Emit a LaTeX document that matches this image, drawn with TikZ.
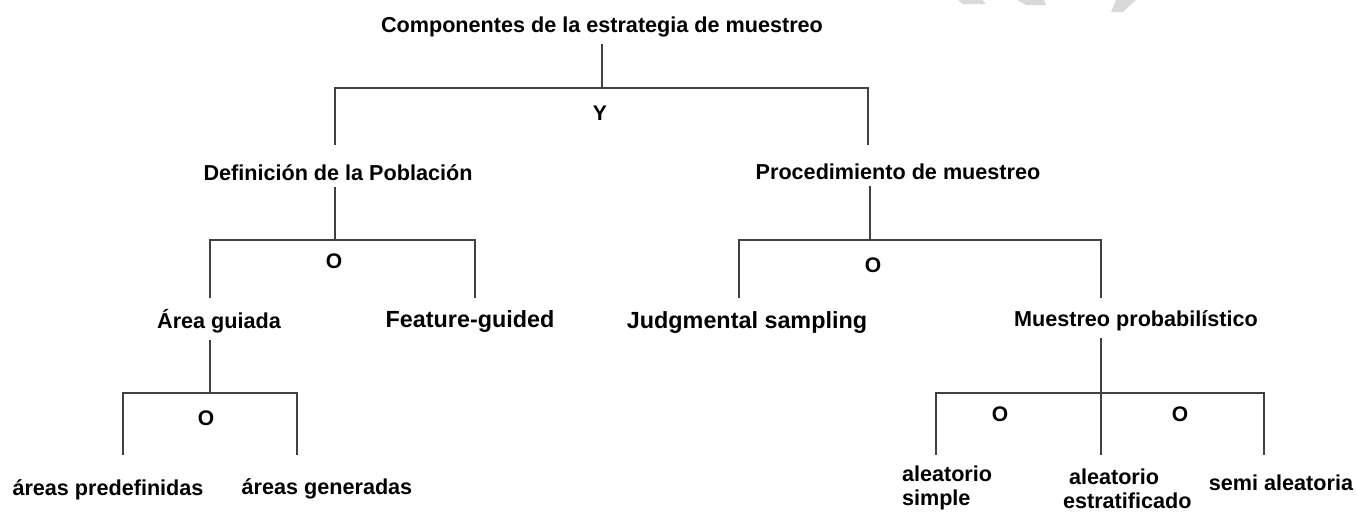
\documentclass[tikz,border=0pt]{standalone}
\usepackage{fontspec}
\setmainfont{Liberation Sans}
\tikzset{
  lbl/.style={font=\fontsize{12.3}{13.6}\selectfont\bfseries, anchor=base, inner sep=0pt, outer sep=4pt},
  biglbl/.style={lbl, font=\fontsize{13.3}{15}\selectfont\bfseries},
  conj/.style={lbl, font=\fontsize{12}{14}\selectfont\bfseries},
  branch/.style={draw=black!75, line width=0.8pt},
  wmark/.style={fill=black!15, draw=none}
}
\begin{document}
\begin{tikzpicture}[x=0.02cm,y=-0.02cm,line cap=butt,line join=miter]
  \useasboundingbox (0,0) rectangle (1357,511);
  % faint remains of a watermark, top right
  \fill[wmark] (958,0) -- (982,0) -- (986,4) -- (963,4) -- cycle;
  \fill[wmark] (1017,0) -- (1044,0) -- (1046,5) -- (1026,5) -- cycle;
  \fill[wmark] (1116,0) -- (1136,0) -- (1123,12) -- (1111,12) -- cycle;

  % labels
  \node[lbl] (comp) at (602,32) {Componentes de la estrategia de muestreo};
  \node[conj] (y) at (600,120) {Y};
  \node[lbl] (defpob) at (338,180) {Definición de la Población};
  \node[lbl] (proc) at (898,179) {Procedimiento de muestreo};
  \node[conj] (o1) at (334,268) {O};
  \node[conj] (o2) at (873,272) {O};
  \node[lbl] (ag) at (219,328) {Área guiada};
  \node[biglbl] (fg) at (470,327) {Feature-guided};
  \node[biglbl] (js) at (747,328) {Judgmental sampling};
  \node[lbl] (mp) at (1136,326) {Muestreo probabilístico};
  \node[conj] (o3) at (206,425) {O};
  \node[conj] (o4) at (1000,421) {O};
  \node[conj] (o5) at (1180,421) {O};
  \node[lbl] (ap) at (108,495) {áreas predefinidas};
  \node[lbl] (agn) at (327,494) {áreas generadas};
  \node[lbl, anchor=base west, align=left] (as) at (895,505) {aleatorio\\simple};
  \node[lbl, anchor=base west, align=left] (ae) at (1056,508) {\hspace*{3.4pt}aleatorio\\estratificado};
  \node[lbl] (sa) at (1281,490) {semi aleatoria};

  % junctions and free ends
  \coordinate (comp-bar) at (602,88);
  \coordinate (defpob-in) at (335,145);
  \coordinate (proc-in) at (868,145);
  \coordinate (defpob-bar) at (335,240);
  \coordinate (ag-in) at (210,298);
  \coordinate (fg-in) at (475,298);
  \coordinate (proc-bar) at (870,240);
  \coordinate (js-in) at (739,298);
  \coordinate (mp-in) at (1101,298);
  \coordinate (ag-bar) at (210,393);
  \coordinate (ap-in) at (123,455);
  \coordinate (agn-in) at (297,455);
  \coordinate (mp-bar) at (1101,393);
  \coordinate (as-in) at (936,455);
  \coordinate (ae-in) at (1101,455);
  \coordinate (sa-in) at (1264,455);

  % tree
  \draw[branch] (comp.south -| comp-bar) -- (comp-bar);
  \draw[branch] (defpob-in) |- (comp-bar) -| (proc-in);
  \draw[branch] (defpob.south -| defpob-bar) -- (defpob-bar);
  \draw[branch] (ag-in) |- (defpob-bar) -| (fg-in);
  \draw[branch] (proc.south -| proc-bar) -- (proc-bar);
  \draw[branch] (js-in) |- (proc-bar) -| (mp-in);
  \draw[branch] (ag.south -| ag-bar) -- (ag-bar);
  \draw[branch] (ap-in) |- (ag-bar) -| (agn-in);
  \draw[branch] (mp.south -| mp-bar) -- (ae-in);
  \draw[branch] (as-in) |- (mp-bar) -| (sa-in);
\end{tikzpicture}
\end{document}
